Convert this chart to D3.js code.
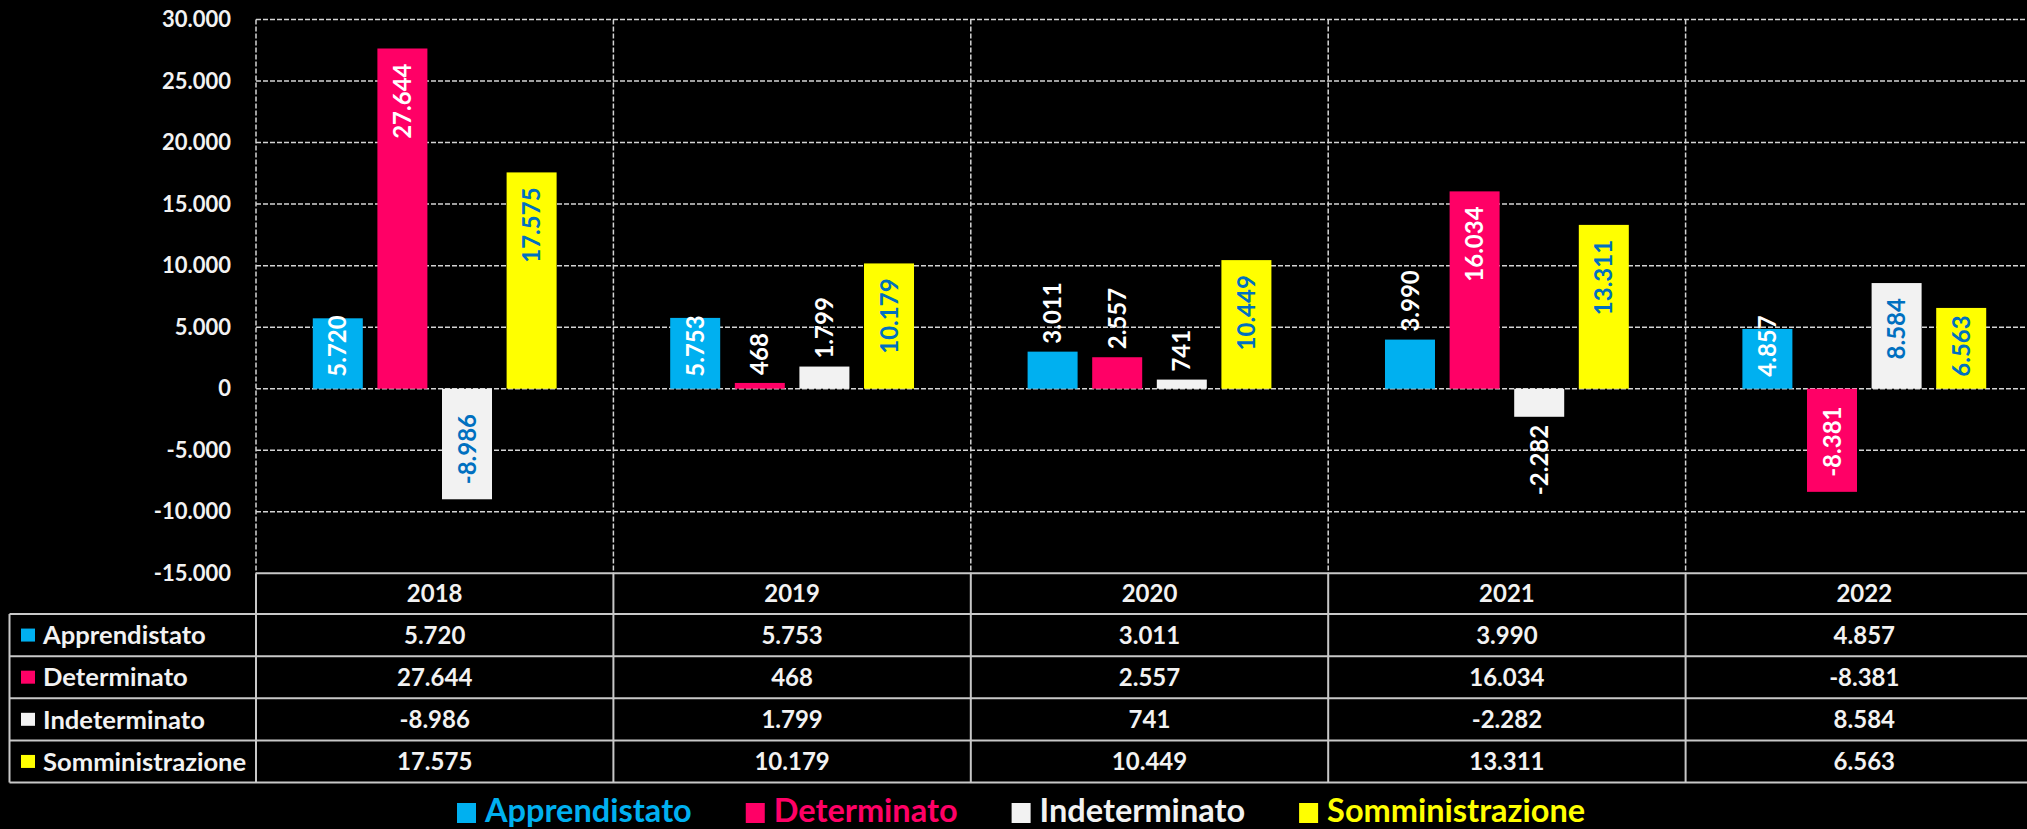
<!DOCTYPE html>
<html><head><meta charset="utf-8">
<script src="https://cdn.jsdelivr.net/npm/d3@7"></script>
<style>
html,body{margin:0;padding:0;background:#000;overflow:hidden}
svg{display:block}
text{font-family:Lato,'Open Sans',sans-serif;font-weight:700}
</style></head><body>
<svg id="chart" width="2027" height="829"></svg>
<script>
// ---- data ----
const years = ['2018', '2019', '2020', '2021', '2022'];
const seriesNames = ['Apprendistato', 'Determinato', 'Indeterminato', 'Somministrazione'];
const apprendistato = [5720, 5753, 3011, 3990, 4857];
const determinato = [27644, 468, 2557, 16034, -8381];
const indeterminato = [-8986, 1799, 741, -2282, 8584];
const somministrazione = [17575, 10179, 10449, 13311, 6563];
const yTicks = [-15000, -10000, -5000, 0, 5000, 10000, 15000, 20000, 25000, 30000];

// ---- styles ----
const seriesColors = ['#00B0F0', '#FF0066', '#F2F2F2', '#FFFF00'];
const insideLabelColors = ['#FFFFFF', '#FFFFFF', '#0070C0', '#0070C0'];
const seriesValues = [apprendistato, determinato, indeterminato, somministrazione];

const W = 2027, H = 829;
const plotLeft = 256, colW = 357.4, plotTop = 19.5, plotBottom = 573.3;
const tableLeft = 9.5, headerBottom = 614, tableBottom = 782.5;
const gridColor = '#d4d4d4', tableLine = '#c8c8c8';

const loc = d3.formatLocale({decimal: ',', thousands: '.', grouping: [3], currency: ['', '€'], minus: '-'});
const fmt = loc.format(',d');

const svg = d3.select('#chart');
svg.append('rect').attr('width', W).attr('height', H).attr('fill', '#000');

const x0 = d3.scaleBand().domain(years).range([plotLeft, plotLeft + colW * years.length]).padding(0);
const x1 = d3.scaleBand().domain(seriesNames).range([0, x0.bandwidth()]).paddingInner(0.226).paddingOuter(0.879);
const y = d3.scaleLinear().domain([-15000, 30000]).range([plotBottom, plotTop]);
const rowScale = d3.scaleBand().domain(seriesNames).range([headerBottom, tableBottom]);
const plotRight = x0.range()[1];

// gridlines (dashed)
svg.append('g').selectAll('line').data(yTicks.filter(t => t > -15000)).join('line')
  .attr('x1', plotLeft).attr('x2', plotRight)
  .attr('y1', d => y(d)).attr('y2', d => y(d))
  .attr('stroke', gridColor).attr('stroke-width', 1.5).attr('stroke-dasharray', '5,2');
svg.append('g').selectAll('line').data(years.concat(['end'])).join('line')
  .attr('x1', d => d === 'end' ? plotRight : x0(d)).attr('x2', d => d === 'end' ? plotRight : x0(d))
  .attr('y1', plotTop).attr('y2', plotBottom)
  .attr('stroke', gridColor).attr('stroke-width', 1.5).attr('stroke-dasharray', '5,2');

// y axis labels
const yAxis = d3.axisLeft(y).tickValues(yTicks).tickFormat(fmt).tickSize(0).tickPadding(25);
const ga = svg.append('g').attr('transform', `translate(${plotLeft},0)`).call(yAxis);
ga.select('.domain').remove();
ga.selectAll('text').attr('fill', '#F2F2F2').attr('font-size', 22).attr('font-family', 'Lato,sans-serif').attr('font-weight', 700);

// bars
const flat = [];
seriesNames.forEach((s, si) => years.forEach((yr, yi) => flat.push({s, si, yr, v: seriesValues[si][yi]})));
svg.append('g').selectAll('rect').data(flat).join('rect')
  .attr('x', d => x0(d.yr) + x1(d.s))
  .attr('y', d => y(Math.max(0, d.v)))
  .attr('width', x1.bandwidth())
  .attr('height', d => Math.abs(y(d.v) - y(0)))
  .attr('fill', (d) => seriesColors[d.si]);

// data labels (rotated)
const pad = 15, gap = 8, basePad = 12;
const lbl = svg.append('g').selectAll('text').data(flat).join('text')
  .attr('font-size', 24).attr('dy', '0.36em')
  .text(d => fmt(d.v));
lbl.each(function (d) {
  const t = d3.select(this);
  const L = this.getComputedTextLength();
  const B = Math.abs(y(d.v) - y(0));
  const cx = x0(d.yr) + x1(d.s) + x1.bandwidth() / 2;
  let anchor, ay, inside;
  if (d.v >= 0) {
    const top = y(d.v);
    if (B >= L + pad + basePad) { anchor = 'end'; ay = top + pad; inside = true; }
    else if (B >= L - 5) { anchor = 'start'; ay = y(0) - basePad; inside = true; }
    else { anchor = 'start'; ay = top - gap; inside = false; }
  } else {
    const bot = y(d.v);
    if (B >= L + pad + basePad) { anchor = 'start'; ay = bot - pad; inside = true; }
    else if (B >= L - 5) { anchor = 'end'; ay = y(0) + basePad; inside = true; }
    else { anchor = 'end'; ay = bot + gap; inside = false; }
  }
  t.attr('text-anchor', anchor)
   .attr('transform', `translate(${cx},${ay}) rotate(-90)`)
   .attr('fill', inside ? insideLabelColors[d.si] : '#FFFFFF');
});

// table lines
const tl = svg.append('g').attr('stroke', tableLine).attr('stroke-width', 2);
tl.append('line').attr('x1', plotLeft).attr('x2', W).attr('y1', plotBottom).attr('y2', plotBottom);
[headerBottom].concat(seriesNames.map(s => rowScale(s) + rowScale.bandwidth())).forEach(yy => {
  tl.append('line').attr('x1', tableLeft).attr('x2', W).attr('y1', yy).attr('y2', yy);
});
years.forEach(yr => {
  tl.append('line').attr('x1', x0(yr)).attr('x2', x0(yr)).attr('y1', plotBottom).attr('y2', tableBottom);
});
tl.append('line').attr('x1', plotRight).attr('x2', plotRight).attr('y1', plotBottom).attr('y2', tableBottom);
tl.append('line').attr('x1', tableLeft).attr('x2', tableLeft).attr('y1', headerBottom).attr('y2', tableBottom);

// header years
svg.append('g').selectAll('text').data(years).join('text')
  .attr('x', d => x0(d) + x0.bandwidth() / 2)
  .attr('y', (plotBottom + headerBottom) / 2).attr('dy', '0.36em')
  .attr('text-anchor', 'middle').attr('font-size', 24).attr('fill', '#F2F2F2')
  .text(d => d);

// table values
svg.append('g').selectAll('text').data(flat).join('text')
  .attr('x', d => x0(d.yr) + x0.bandwidth() / 2)
  .attr('y', d => rowScale(d.s) + rowScale.bandwidth() / 2).attr('dy', '0.36em')
  .attr('text-anchor', 'middle').attr('font-size', 24).attr('fill', '#F2F2F2')
  .text(d => fmt(d.v));

// row labels with keys
const rows = svg.append('g').selectAll('g').data(seriesNames).join('g')
  .attr('transform', d => `translate(0,${rowScale(d) + rowScale.bandwidth() / 2})`);
rows.append('rect').attr('x', 21).attr('y', -6.5).attr('width', 14).attr('height', 13)
  .attr('fill', (d, i) => seriesColors[i]);
rows.append('text').attr('x', 43).attr('dy', '0.36em').attr('font-size', 25.6).attr('fill', '#F2F2F2')
  .text(d => d);

// legend
const legY = 813;
const leg = svg.append('g');
let lx = 457;
seriesNames.forEach((s, i) => {
  leg.append('rect').attr('x', lx).attr('y', legY - 10).attr('width', 19).attr('height', 20).attr('fill', seriesColors[i]);
  const t = leg.append('text').attr('x', lx + 28).attr('y', 821.5)
    .attr('font-size', 32.5).attr('fill', seriesColors[i]).text(s);
  lx += 28 + t.node().getComputedTextLength() + 54;
});
</script>
</body></html>
